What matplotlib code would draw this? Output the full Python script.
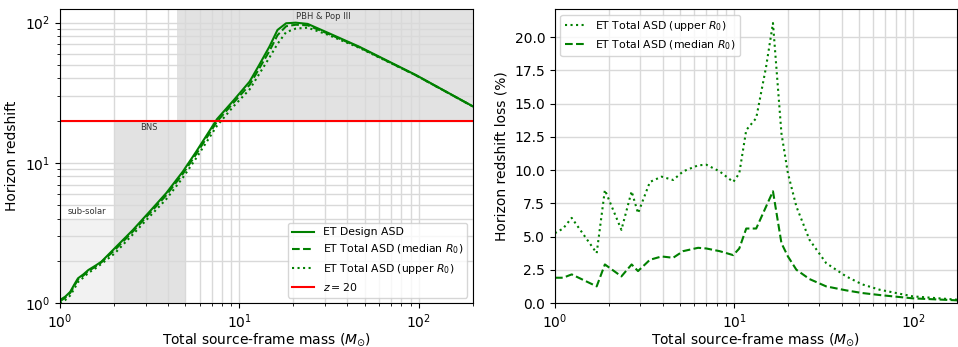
import matplotlib
matplotlib.use("Agg")
import matplotlib.pyplot as plt

# horizon redshift vs total mass (left panel)
masses = [1.0, 1.07, 1.14, 1.2, 1.26, 1.35, 1.44, 1.58, 1.70, 2.02, 2.55, 3.16, 3.91,
          4.84, 5.74, 7.5, 9.3, 11.4, 12.9, 14.7, 16.3, 18.2, 20.6, 24, 30.3, 46.4,
          96, 200]
z_design = [1.05, 1.11, 1.2, 1.35, 1.5, 1.6, 1.72, 1.85, 1.97, 2.46, 3.32, 4.49, 6.08,
            8.67, 12.0, 20.5, 28, 38, 50, 67.5, 88.7, 99, 100, 98, 86, 67.5,
            42.4, 25.3]
z_median = [1.03, 1.09, 1.18, 1.32, 1.47, 1.57, 1.69, 1.82, 1.95, 2.39, 3.24, 4.36, 5.87,
            8.36, 11.52, 19.7, 27.0, 36.0, 47.2, 62.8, 81.4, 94.3, 96.7, 95.8, 84.8, 66.9,
            42.2, 25.25]
z_upper = [1.0, 1.05, 1.13, 1.26, 1.41, 1.52, 1.64, 1.77, 1.90, 2.26, 3.09, 4.14, 5.50,
           7.84, 10.79, 18.4, 25.4, 33.4, 43.1, 56.4, 70.5, 85.6, 90.7, 92.1, 83.1, 66.3,
           42.2, 25.25]
z_limit = 20

# horizon redshift loss (right panel)
loss_masses = [1.0, 1.11, 1.24, 1.71, 1.90, 2.35, 2.68, 2.91, 3.39, 3.94, 4.57, 5.2,
               6.3, 7.0, 8.3, 9.9, 10.7, 11.7, 13.3, 15.1, 16.5, 18.4, 20.0, 22.3,
               26.4, 32.7, 42.3, 52, 65, 99.6, 176]
loss_upper = [5.25, 5.6, 6.4, 3.75, 8.5, 5.5, 8.4, 6.75, 9.1, 9.5, 9.25, 9.9,
              10.35, 10.4, 9.9, 9.1, 9.75, 13.0, 13.9, 17.75, 21.05, 12.75, 9.75, 7.25,
              4.75, 3.0, 2.0, 1.4, 1.0, 0.5, 0.25]
loss_median = [1.9, 1.9, 2.15, 1.25, 2.9, 2.0, 2.9, 2.4, 3.25, 3.5, 3.4, 3.9,
               4.15, 4.1, 3.9, 3.6, 4.1, 5.6, 5.6, 7.25, 8.4, 4.5, 3.5, 2.5,
               1.8, 1.25, 0.95, 0.75, 0.6, 0.35, 0.2]

GRID = "#d9d9d9"

fig = plt.figure(figsize=(9.58, 3.47), dpi=100)
ax1 = fig.add_axes([0.0626, 0.1268, 0.431, 0.847])
ax2 = fig.add_axes([0.5793, 0.1268, 0.4197, 0.847])

# left panel
ax1.fill_between([1, 2], 1, 4.0, color="#f2f2f2", lw=0)
ax1.fill_between([2, 5], 1, z_limit, color="#e2e2e2", lw=0)
ax1.fill_between([4.5, 200], z_limit, 125, color="#e2e2e2", lw=0)
ax1.text(1.1, 4.5, "sub-solar", fontsize=6, color="#333333", va="center")
ax1.text(3.12, 17.8, "BNS", fontsize=6, color="#333333", ha="center", va="center")
ax1.text(29.5, 111, "PBH & Pop III", fontsize=6, color="#333333", ha="center", va="center")

ax1.plot(masses, z_design, color="green", lw=1.5, label="ET Design ASD")
ax1.plot(masses, z_median, color="green", lw=1.5, ls="--", label=r"ET Total ASD (median $R_0$)")
ax1.plot(masses, z_upper, color="green", lw=1.5, ls=":", label=r"ET Total ASD (upper $R_0$)")
ax1.axhline(z_limit, color="red", lw=1.5, label=r"$z = 20$")

ax1.set_xscale("log")
ax1.set_yscale("log")
ax1.set_xlim(1, 200)
ax1.set_ylim(1, 125)
ax1.grid(True, which="both", color=GRID, lw=1)
ax1.set_xlabel(r"Total source-frame mass ($M_{\odot}$)", labelpad=0)
ax1.set_ylabel("Horizon redshift")
ax1.legend(loc="lower right", fontsize=7.8)

# right panel
ax2.plot(loss_masses, loss_upper, color="green", lw=1.5, ls=":", label=r"ET Total ASD (upper $R_0$)")
ax2.plot(loss_masses, loss_median, color="green", lw=1.5, ls="--", label=r"ET Total ASD (median $R_0$)")
ax2.set_xscale("log")
ax2.set_xlim(1, 176)
ax2.set_ylim(0, 22.1)
ax2.set_yticks([0, 2.5, 5, 7.5, 10, 12.5, 15, 17.5, 20])
ax2.grid(True, which="major", color=GRID, lw=1)
ax2.grid(True, which="minor", axis="x", color=GRID, lw=1)
ax2.set_xlabel(r"Total source-frame mass ($M_{\odot}$)", labelpad=0)
ax2.set_ylabel("Horizon redshift loss (%)")
ax2.legend(loc="upper left", fontsize=7.8)

fig.savefig("out.png", dpi=100)
